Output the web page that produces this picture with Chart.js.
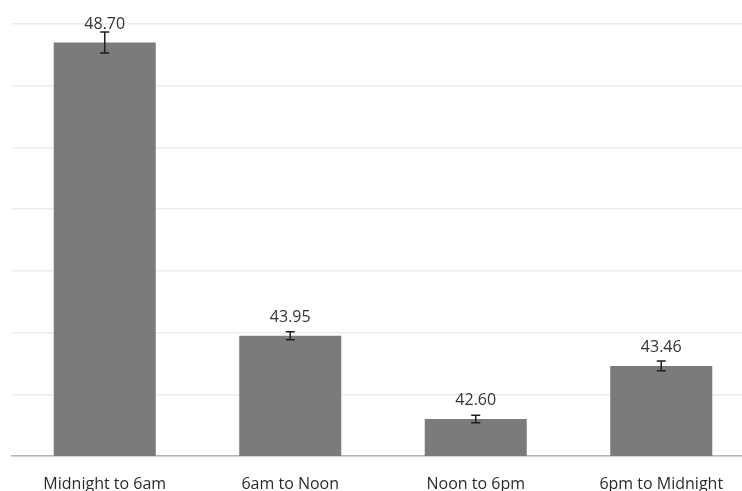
<!DOCTYPE html>
<html>
<head>
<meta charset="utf-8">
<script src="https://cdn.jsdelivr.net/npm/chart.js@4"></script>
<style>
  html, body { margin: 0; padding: 0; background: #fff; overflow: hidden; }
  #wrap { width: 742px; height: 491px; overflow: hidden; }
  #wrap div { width: 760px; height: 491px; }
</style>
</head>
<body>
<div id="wrap"><div><canvas id="chart"></canvas></div></div>
<script>
// 时间段与均值、误差
const categories = ['Midnight to 6am', '6am to Noon', 'Noon to 6pm', '6pm to Midnight'];
const values = [48.70, 43.95, 42.60, 43.46];
const errors = [0.17, 0.065, 0.06, 0.08];

// 误差线 + 数值标签
const errorBars = {
    id: 'errorBars',
    afterDatasetsDraw(chart) {
        const ctx = chart.ctx;
        const y = chart.scales.y;
        const meta = chart.getDatasetMeta(0);
        ctx.save();
        meta.data.forEach((bar, i) => {
            const top = y.getPixelForValue(values[i] + errors[i]);
            const bottom = y.getPixelForValue(values[i] - errors[i]);
            ctx.strokeStyle = '#1e1e1e';
            ctx.lineWidth = 1.5;
            ctx.beginPath();
            ctx.moveTo(bar.x, top); ctx.lineTo(bar.x, bottom);
            ctx.moveTo(bar.x - 4.5, top); ctx.lineTo(bar.x + 4.5, top);
            ctx.moveTo(bar.x - 4.5, bottom); ctx.lineTo(bar.x + 4.5, bottom);
            ctx.stroke();
            ctx.fillStyle = '#333';
            ctx.font = '16px "Open Sans"';
            ctx.textAlign = 'center';
            ctx.textBaseline = 'alphabetic';
            ctx.fillText(values[i].toFixed(2), bar.x, bar.y - 14);
        });
        ctx.restore();
    }
};

new Chart(document.getElementById('chart'), {
    type: 'bar',
    data: {
        labels: categories,
        datasets: [{
            data: values,
            backgroundColor: '#7b7b7b',
            borderWidth: 0,
            categoryPercentage: 1,
            barPercentage: 0.55
        }]
    },
    options: {
        responsive: true,
        maintainAspectRatio: false,
        animation: false,
        layout: { padding: { left: 12, right: 6, top: 24, bottom: 0 } },
        plugins: { legend: { display: false }, tooltip: { enabled: false } },
        scales: {
            x: {
                grid: { display: false },
                border: { color: '#b4b4b4', width: 1.5 },
                ticks: { color: '#2a2a2a', font: { family: 'Open Sans', size: 16 }, padding: 11, maxRotation: 0 },
                afterFit: s => { s.height = 35; }
            },
            y: {
                min: 42,
                max: 49,
                ticks: { display: false, stepSize: 1 },
                grid: { color: '#ececec', lineWidth: 1.5, drawTicks: false },
                border: { display: false },
                afterFit: s => { s.width = 0; }
            }
        }
    },
    plugins: [errorBars]
});
</script>
</body>
</html>
